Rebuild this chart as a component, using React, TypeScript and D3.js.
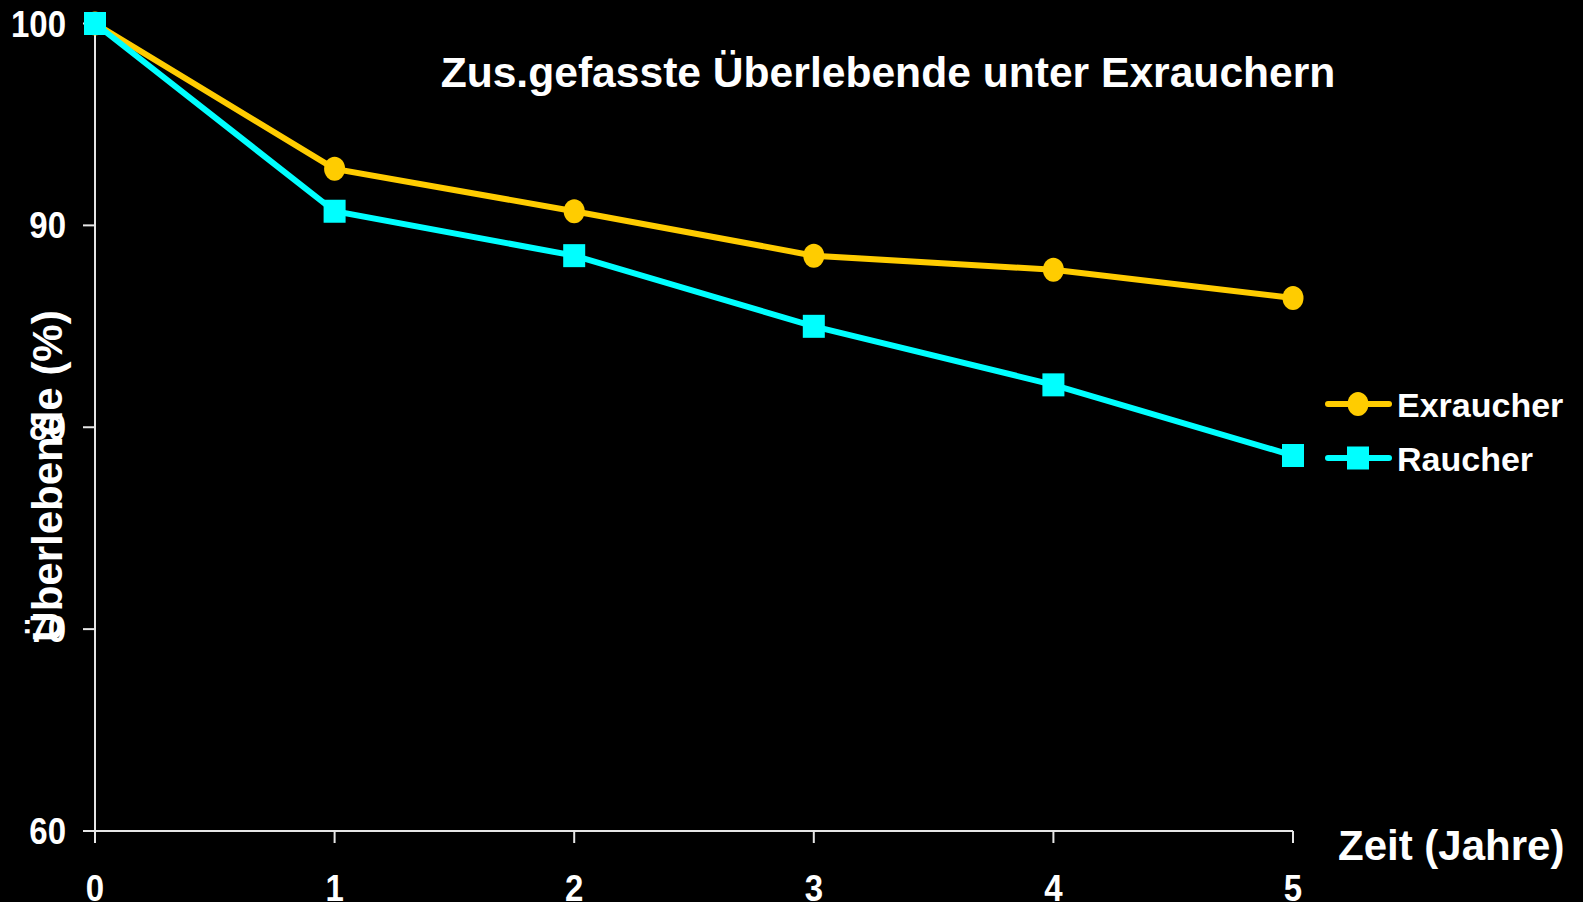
import React, { useEffect, useRef } from 'react';
import * as d3 from 'd3';

const years = [0, 1, 2, 3, 4, 5];
const exraucher = [100, 92.8, 90.7, 88.5, 87.8, 86.4];
const raucher = [100, 90.7, 88.5, 85.0, 82.1, 78.6];
const yTicks = [60, 70, 80, 90, 100];
const seriesNames = ['Exraucher', 'Raucher'];
const seriesColors = ['#FFCC00', '#00FFFF'];

const FONT = '"Liberation Sans", Arial, sans-serif';

const App = () => {
  const svgRef = useRef<SVGSVGElement>(null);

  useEffect(() => {
    const svg = d3.select(svgRef.current);
    svg.selectAll('*').remove();

    const W = 1583;
    const H = 902;

    svg.append('rect').attr('width', W).attr('height', H).attr('fill', '#000');

    const x = d3.scaleLinear().domain([0, 5]).range([95, 1293]);
    const y = d3.scaleLinear().domain([60, 100]).range([831, 23.5]);
    const axisColor = '#e6e6e6';

    // axes
    svg.append('line')
      .attr('x1', x(0)).attr('x2', x(0))
      .attr('y1', y(100)).attr('y2', y(60) + 12)
      .attr('stroke', axisColor).attr('stroke-width', 2);
    svg.append('line')
      .attr('x1', x(0) - 12).attr('x2', x(5))
      .attr('y1', y(60)).attr('y2', y(60))
      .attr('stroke', axisColor).attr('stroke-width', 2);

    // y ticks + labels
    svg.selectAll('.ytick')
      .data(yTicks)
      .enter().append('line')
      .attr('x1', x(0) - 12).attr('x2', x(0))
      .attr('y1', d => y(d)).attr('y2', d => y(d))
      .attr('stroke', axisColor).attr('stroke-width', 2);
    svg.selectAll('.ylabel')
      .data(yTicks)
      .enter().append('text')
      .attr('transform', d => `translate(66,${y(d) + 13}) scale(1,1.1)`)
      .attr('text-anchor', 'end')
      .style('font-family', FONT)
      .style('font-weight', 'bold')
      .style('font-size', '33px')
      .attr('fill', '#fff')
      .text(d => d);

    // x ticks + labels
    svg.selectAll('.xtick')
      .data(years)
      .enter().append('line')
      .attr('x1', d => x(d)).attr('x2', d => x(d))
      .attr('y1', y(60)).attr('y2', y(60) + 12)
      .attr('stroke', axisColor).attr('stroke-width', 2);
    svg.selectAll('.xlabel')
      .data(years)
      .enter().append('text')
      .attr('transform', d => `translate(${x(d)},901) scale(1,1.1)`)
      .attr('text-anchor', 'middle')
      .style('font-family', FONT)
      .style('font-weight', 'bold')
      .style('font-size', '33px')
      .attr('fill', '#fff')
      .text(d => d);

    // axis titles
    svg.append('text')
      .attr('transform', 'translate(62,476) rotate(-90)')
      .attr('text-anchor', 'middle')
      .style('font-family', FONT)
      .style('font-weight', 'bold')
      .style('font-size', '42px')
      .attr('fill', '#fff')
      .text('Überlebende (%)');
    svg.append('text')
      .attr('x', 1338)
      .attr('y', 860)
      .style('font-family', FONT)
      .style('font-weight', 'bold')
      .style('font-size', '42px')
      .attr('fill', '#fff')
      .text('Zeit (Jahre)');

    // title
    svg.append('text')
      .attr('x', 888)
      .attr('y', 87)
      .attr('text-anchor', 'middle')
      .style('font-family', FONT)
      .style('font-weight', 'bold')
      .style('font-size', '42.6px')
      .attr('fill', '#fff')
      .text('Zus.gefasste Überlebende unter Exrauchern');

    const line = d3.line<number>()
      .x((d, i) => x(years[i]))
      .y(d => y(d));

    // Exraucher
    svg.append('path')
      .datum(exraucher)
      .attr('d', line)
      .attr('fill', 'none')
      .attr('stroke', seriesColors[0])
      .attr('stroke-width', 6);
    svg.selectAll('.exdot')
      .data(exraucher)
      .enter().append('ellipse')
      .attr('cx', (d, i) => x(years[i]))
      .attr('cy', d => y(d))
      .attr('rx', 10.5)
      .attr('ry', 12)
      .attr('fill', seriesColors[0]);

    // Raucher
    svg.append('path')
      .datum(raucher)
      .attr('d', line)
      .attr('fill', 'none')
      .attr('stroke', seriesColors[1])
      .attr('stroke-width', 6);
    svg.selectAll('.rsq')
      .data(raucher)
      .enter().append('rect')
      .attr('x', (d, i) => x(years[i]) - 11)
      .attr('y', d => y(d) - 11.5)
      .attr('width', 22)
      .attr('height', 23)
      .attr('fill', seriesColors[1]);

    // legend
    const legendY = [404, 458];
    seriesNames.forEach((name, i) => {
      const ly = legendY[i];
      svg.append('line')
        .attr('x1', 1328).attr('x2', 1389)
        .attr('y1', ly).attr('y2', ly)
        .attr('stroke', seriesColors[i])
        .attr('stroke-width', 6)
        .attr('stroke-linecap', 'round');
      if (i === 0) {
        svg.append('ellipse')
          .attr('cx', 1358).attr('cy', ly)
          .attr('rx', 10.5).attr('ry', 12)
          .attr('fill', seriesColors[i]);
      } else {
        svg.append('rect')
          .attr('x', 1347).attr('y', ly - 11.5)
          .attr('width', 22).attr('height', 23)
          .attr('fill', seriesColors[i]);
      }
      svg.append('text')
        .attr('x', 1397)
        .attr('y', ly + 13)
        .style('font-family', FONT)
        .style('font-weight', 'bold')
        .style('font-size', '34px')
        .attr('fill', '#fff')
        .text(name);
    });
  }, []);

  return (
    <svg
      ref={svgRef}
      width={1583}
      height={902}
      style={{ position: 'absolute', left: 0, top: 0, display: 'block' }}
    />
  );
};

export default App;
